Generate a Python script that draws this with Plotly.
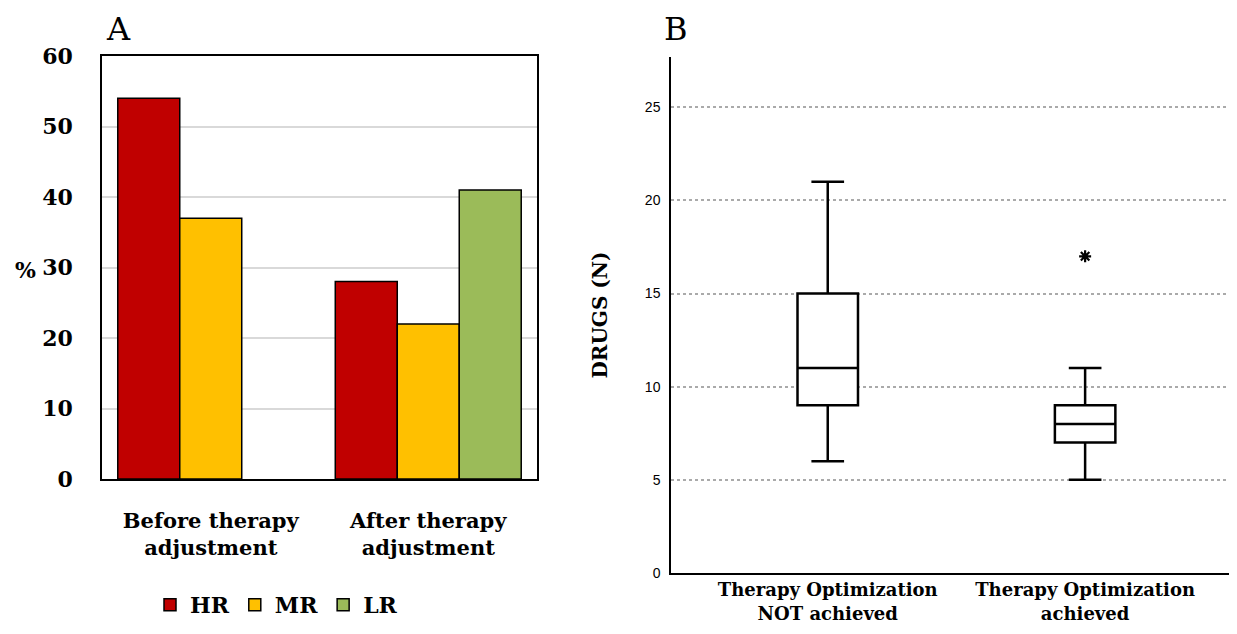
import plotly.graph_objects as go

# ---- Panel A data ----
groups = ["Before therapy<br>adjustment", "After therapy<br>adjustment"]
hr_vals = [54, 28]
mr_vals = [37, 22]
lr_vals = [None, 41]
a_ticks = [0, 10, 20, 30, 40, 50, 60]

# ---- Panel B data ----
b_cats = ["Therapy Optimization<br>NOT achieved", "Therapy Optimization<br>achieved"]
b_pos = [0, 1]
b_lower = [6, 5]
b_q1 = [9, 7]
b_median = [11, 8]
b_q3 = [15, 9]
b_upper = [21, 11]
outlier_x = [1]
outlier_y = [17]
b_ticks = [0, 5, 10, 15, 20, 25]

SERIF = "DejaVu Serif"
OFF = 8
W, H = 1237 - 2 * OFF, 634 - 2 * OFF

fig = go.Figure()

fig.add_trace(go.Bar(name="HR", x=groups, y=hr_vals, marker=dict(color="#C00000", line=dict(color="black", width=1.5)), xaxis="x", yaxis="y"))
fig.add_trace(go.Bar(name="MR", x=groups, y=mr_vals, marker=dict(color="#FFC000", line=dict(color="black", width=1.5)), xaxis="x", yaxis="y"))
fig.add_trace(go.Bar(name="LR", x=groups, y=lr_vals, marker=dict(color="#9BBB59", line=dict(color="black", width=1.5)), xaxis="x", yaxis="y"))

for i in range(len(b_pos)):
    fig.add_trace(go.Box(
        x=[b_pos[i]], q1=[b_q1[i]], median=[b_median[i]], q3=[b_q3[i]],
        lowerfence=[b_lower[i]], upperfence=[b_upper[i]],
        width=0.235, whiskerwidth=0.54, boxpoints=False,
        line=dict(color="black", width=2.5), fillcolor="white",
        showlegend=False, xaxis="x2", yaxis="y2"))

fig.add_trace(go.Scatter(x=outlier_x, y=outlier_y, mode="markers",
                         marker=dict(symbol="asterisk-open", size=10, color="black",
                                     line=dict(color="black", width=2.2)),
                         showlegend=False, xaxis="x2", yaxis="y2"))

def px_x(p):
    return (p - OFF) / W

def px_y(p):
    return 1 - (p - OFF) / H

fig.update_layout(
    width=W, height=H,
    margin=dict(l=0, r=0, t=0, b=0, autoexpand=False),
    paper_bgcolor="white", plot_bgcolor="white",
    barmode="group", bargap=0.145, bargroupgap=0,
    font=dict(family=SERIF, color="black"),
    xaxis=dict(domain=[px_x(102), px_x(537)], anchor="y", automargin=False,
               showline=True, mirror=True, linecolor="black", linewidth=1.5,
               showgrid=False, ticks="", ticklabelstandoff=22,
               tickfont=dict(family=SERIF, size=21, color="black", weight="bold")),
    yaxis=dict(domain=[px_y(479), px_y(56)], anchor="x", range=[0, 60], automargin=False,
               tickvals=a_ticks, showline=True, mirror=True, linecolor="black", linewidth=1.5,
               showgrid=True, gridcolor="#D9D9D9", gridwidth=1.5, zeroline=False,
               ticks="", ticklabelstandoff=23,
               tickfont=dict(family=SERIF, size=22, color="black", weight="bold")),
    xaxis2=dict(domain=[px_x(671), 1.0], anchor="y2", range=[-0.609, 1.559], automargin=False,
                tickvals=b_pos, ticktext=b_cats,
                showline=True, linecolor="black", linewidth=1.5, showgrid=False,
                zeroline=False, ticks="", ticklabelstandoff=0,
                tickfont=dict(family=SERIF, size=18, color="black", weight="bold")),
    yaxis2=dict(domain=[px_y(573), px_y(57)], anchor="x2", range=[0, 27.7], automargin=False,
                tickvals=b_ticks, showline=True, linecolor="black", linewidth=1.5,
                showgrid=True, gridcolor="#AAAAAA", gridwidth=1.5, griddash="dot",
                zeroline=False, ticks="", ticklabelstandoff=6,
                tickfont=dict(family="Liberation Sans", size=14, color="black"),
                title=dict(text="<b>DRUGS (N)</b>", standoff=32,
                           font=dict(family=SERIF, size=20, color="black"))),
    legend=dict(orientation="h", x=px_x(150), xanchor="left", y=0, yanchor="bottom",
                font=dict(family=SERIF, size=22, color="black", weight="bold"),
                bgcolor="rgba(0,0,0,0)", itemwidth=30, traceorder="normal"),
    annotations=[
        dict(text="A", x=px_x(118), y=1.0, xref="paper", yref="paper", showarrow=False,
             xanchor="center", yanchor="top",
             font=dict(family=SERIF, size=32, color="black")),
        dict(text="B", x=px_x(676), y=1.0, xref="paper", yref="paper", showarrow=False,
             xanchor="center", yanchor="top",
             font=dict(family=SERIF, size=32, color="black")),
        dict(text="<b>%</b>", x=px_x(25), y=px_y(270), xref="paper", yref="paper", showarrow=False,
             xanchor="center", yanchor="middle",
             font=dict(family=SERIF, size=22, color="black")),
    ],
)

fig.write_html("out.html")
